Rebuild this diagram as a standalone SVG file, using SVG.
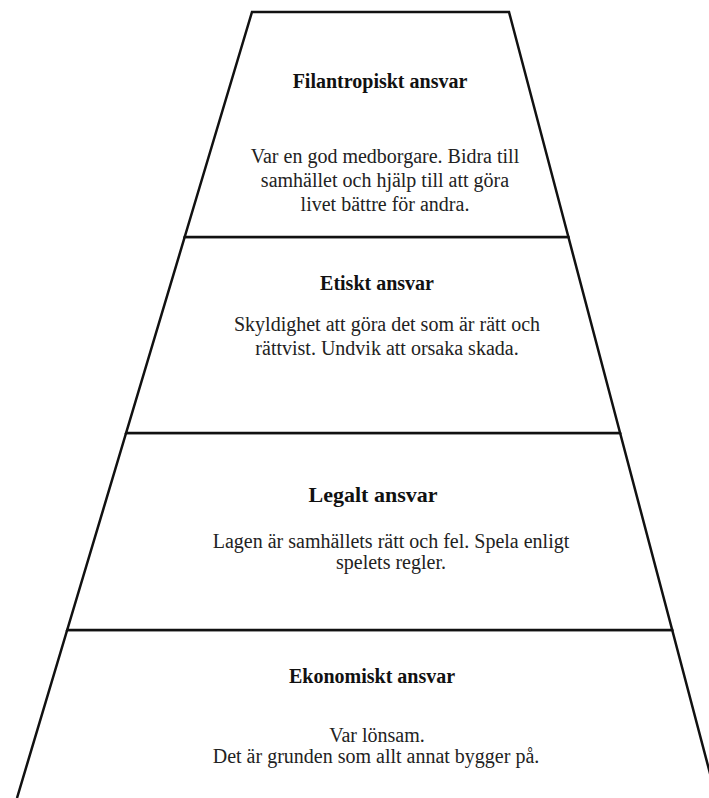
<svg xmlns="http://www.w3.org/2000/svg" width="709" height="798" viewBox="0 0 709 798">
<style>
.tier{fill:#ffffff;stroke:#111111;stroke-width:2.5;stroke-linejoin:miter}
.title{font-family:"Liberation Serif","Times New Roman",serif;font-weight:bold;font-size:20px;fill:#111111;text-anchor:middle}
.body{font-family:"Liberation Serif","Times New Roman",serif;font-size:20px;fill:#222222;text-anchor:middle}
</style>
<rect x="0" y="0" width="709" height="798" fill="#ffffff"/>
<g id="ekonomiskt">
<path class="tier" d="M17,798 L67.2,630 L672.2,630 L716.5,798"/>
<text class="title" x="372" y="683">Ekonomiskt ansvar</text>
<text class="body" x="377" y="742">Var lönsam.</text>
<text class="body" x="376" y="763">Det är grunden som allt annat bygger på.</text>
</g>
<g id="legalt">
<path class="tier" d="M126.1,433 L620.1,433 L672.2,630 L67.2,630 Z"/>
<text class="title" x="373" y="502" style="font-size:22px">Legalt ansvar</text>
<text class="body" x="391" y="548">Lagen är samhällets rätt och fel. Spela enligt</text>
<text class="body" x="391" y="569">spelets regler.</text>
</g>
<g id="etiskt">
<path class="tier" d="M184.7,237 L568.4,237 L620.1,433 L126.1,433 Z"/>
<text class="title" x="377" y="290">Etiskt ansvar</text>
<text class="body" x="387" y="331">Skyldighet att göra det som är rätt och</text>
<text class="body" x="387" y="355">rättvist. Undvik att orsaka skada.</text>
</g>
<g id="filantropiskt">
<path class="tier" d="M252,12 L509,12 L568.4,237 L184.7,237 Z"/>
<text class="title" x="380" y="88">Filantropiskt ansvar</text>
<text class="body" x="385" y="163">Var en god medborgare. Bidra till</text>
<text class="body" x="385" y="187">samhället och hjälp till att göra</text>
<text class="body" x="385" y="211">livet bättre för andra.</text>
</g>
<g id="connectors"></g>
</svg>
